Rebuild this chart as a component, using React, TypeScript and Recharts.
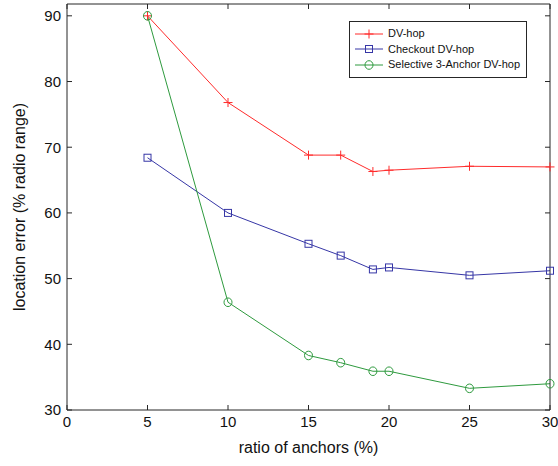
import React from "react";
import { LineChart, Line, XAxis, YAxis } from "recharts";

const ratios = [5, 10, 15, 17, 19, 20, 25, 30];
const dvHop = [90, 76.8, 68.8, 68.8, 66.3, 66.5, 67.1, 67.0];
const checkoutDvHop = [68.4, 60.0, 55.3, 53.5, 51.4, 51.7, 50.5, 51.2];
const selective3Anchor = [90, 46.4, 38.3, 37.2, 35.9, 35.9, 33.3, 34.0];
const xTicks = [0, 5, 10, 15, 20, 25, 30];
const yTicks = [30, 40, 50, 60, 70, 80, 90];

const RED = "#ff2b2b";
const BLUE = "#3636a6";
const GREEN = "#2e9a3e";
const AXIS = "#262626";
const FONT = "'Liberation Sans', Arial, sans-serif";

const data = ratios.map((r, i) => ({
  ratio: r,
  dv: dvHop[i],
  co: checkoutDvHop[i],
  sel: selective3Anchor[i],
}));

const series = [
  { key: "dv", name: "DV-hop", color: RED, marker: "plus" },
  { key: "co", name: "Checkout DV-hop", color: BLUE, marker: "square" },
  { key: "sel", name: "Selective 3-Anchor DV-hop", color: GREEN, marker: "circle" },
];

function Marker({ type, cx, cy, color }: { type: string; cx: number; cy: number; color: string }) {
  if (type === "plus")
    return (
      <path d={`M${cx - 4.5},${cy}H${cx + 4.5}M${cx},${cy - 4.5}V${cy + 4.5}`} stroke={color} strokeWidth={1} fill="none" />
    );
  if (type === "square")
    return <rect x={cx - 3.5} y={cy - 3.5} width={7} height={7} stroke={color} strokeWidth={1} fill="none" />;
  return <ellipse cx={cx} cy={cy} rx={4} ry={4.3} stroke={color} strokeWidth={1} fill="none" />;
}

// legend drawn as an overlay so it doesn't eat into the plot area
function LegendBox() {
  return (
    <div
      style={{
        position: "absolute",
        left: 349,
        top: 21,
        border: `1px solid ${AXIS}`,
        background: "#fff",
        padding: "4px 6px 4px 4px",
        fontFamily: FONT,
        fontSize: 11,
        color: "#111",
        lineHeight: "15.5px",
      }}
    >
      {series.map((s) => (
        <div key={s.key} style={{ display: "flex", alignItems: "center", whiteSpace: "nowrap" }}>
          <svg width={30} height={12} style={{ marginRight: 4 }}>
            <line x1={1} y1={6} x2={29} y2={6} stroke={s.color} strokeWidth={1} />
            <Marker type={s.marker} cx={15} cy={6} color={s.color} />
          </svg>
          <span>{s.name}</span>
        </div>
      ))}
    </div>
  );
}

export default function App() {
  return (
    <div style={{ position: "absolute", left: 0, top: 0, width: 558, height: 466, background: "#fff" }}>
      <LineChart width={558} height={466} data={data} margin={{ top: 3, right: 7, bottom: 0, left: 0 }}>
        <XAxis
          dataKey="ratio"
          type="number"
          domain={[0, 30]}
          ticks={xTicks}
          height={56}
          stroke={AXIS}
          tickSize={-5}
          tickMargin={11}
          tick={{ fill: "#111", fontSize: 15, fontFamily: FONT }}
          label={({ viewBox }: any) => (
            <text
              x={viewBox.x + viewBox.width / 2}
              y={viewBox.y + 43}
              textAnchor="middle"
              fill="#111"
              fontSize={16}
              fontFamily={FONT}
            >
              ratio of anchors (%)
            </text>
          )}
        />
        <XAxis
          xAxisId="top"
          orientation="top"
          dataKey="ratio"
          type="number"
          domain={[0, 30]}
          ticks={xTicks}
          height={1}
          stroke={AXIS}
          tickSize={-5}
          tickFormatter={() => ""}
        />
        <YAxis
          type="number"
          domain={[30, 91.8]}
          allowDataOverflow
          ticks={yTicks}
          width={67}
          stroke={AXIS}
          tickSize={-5}
          tickMargin={11}
          tick={{ fill: "#111", fontSize: 15, fontFamily: FONT }}
          label={({ viewBox }: any) => (
            <text
              x={19}
              y={viewBox.y + viewBox.height / 2}
              textAnchor="middle"
              dominantBaseline="central"
              transform={`rotate(-90 19 ${viewBox.y + viewBox.height / 2})`}
              fill="#111"
              fontSize={16}
              fontFamily={FONT}
            >
              location error (% radio range)
            </text>
          )}
        />
        <YAxis
          yAxisId="right"
          orientation="right"
          type="number"
          domain={[30, 91.8]}
          allowDataOverflow
          ticks={yTicks}
          width={1}
          stroke={AXIS}
          tickSize={-5}
          tickFormatter={() => ""}
        />
        {series.map((s) => (
          <Line
            key={s.key}
            dataKey={s.key}
            name={s.name}
            stroke={s.color}
            strokeWidth={1}
            isAnimationActive={false}
            dot={(p: any) => <Marker key={`${s.key}-${p.index}`} type={s.marker} cx={p.cx} cy={p.cy} color={s.color} />}
          />
        ))}
      </LineChart>
      <LegendBox />
    </div>
  );
}
